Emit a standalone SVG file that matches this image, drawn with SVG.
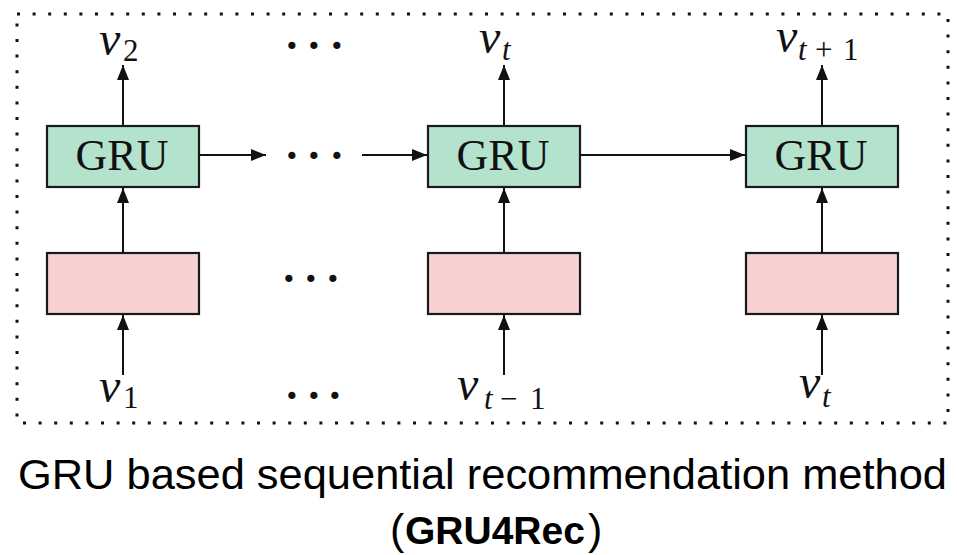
<svg xmlns="http://www.w3.org/2000/svg" width="957" height="555" viewBox="0 0 957 555">
  <style>
    .gru { fill: #b3e2cd; stroke: #1a1a1a; stroke-width: 2.2; }
    .emb { fill: #f7d0d1; stroke: #1a1a1a; stroke-width: 2.2; }
    .lbl { font-family: "Liberation Serif", "Times New Roman", serif; font-size: 44px; fill: #111; }
    .mv { font-family: "Liberation Serif", "Times New Roman", serif; font-style: italic; font-size: 48px; fill: #111; }
    .sub { font-family: "Liberation Serif", "Times New Roman", serif; font-size: 31px; fill: #111; }
    .it { font-style: italic; }
    .dots { font-family: "Liberation Serif", "Times New Roman", serif; font-size: 44px; fill: #111; font-weight: bold; }
    .edge { stroke: #111; stroke-width: 2; fill: none; marker-end: url(#arrow); }
    .cap { font-family: "Liberation Sans", Arial, sans-serif; font-size: 43px; fill: #000; }
    .capb { font-family: "Liberation Sans", Arial, sans-serif; font-size: 39px; font-weight: bold; fill: #000; }
  </style>
  <defs>
    <marker id="arrow" markerUnits="userSpaceOnUse" markerWidth="16" markerHeight="12" refX="15" refY="6" orient="auto">
      <path d="M0,0 L15,6 L0,12 Z" fill="#111"/>
    </marker>
  </defs>

  <rect width="957" height="555" fill="#fff"/>

  <!-- dotted frame -->
  <rect x="17" y="14" width="931" height="409" fill="none" stroke="#111" stroke-width="3" stroke-dasharray="3 12.6"/>

  <!-- GRU cells -->
  <g id="gru1"><rect class="gru" x="47" y="126" width="152" height="61"/><text class="lbl" x="122" y="170" text-anchor="middle">GRU</text></g>
  <g id="gru2"><rect class="gru" x="428" y="126" width="152" height="61"/><text class="lbl" x="503" y="170" text-anchor="middle">GRU</text></g>
  <g id="gru3"><rect class="gru" x="746" y="126" width="152" height="61"/><text class="lbl" x="821" y="170" text-anchor="middle">GRU</text></g>

  <!-- embedding cells -->
  <g id="emb1"><rect class="emb" x="47" y="253" width="152" height="61"/></g>
  <g id="emb2"><rect class="emb" x="428" y="253" width="152" height="61"/></g>
  <g id="emb3"><rect class="emb" x="746" y="253" width="152" height="61"/></g>

  <!-- outputs -->
  <g id="out1"><text class="mv" x="99" y="55">v</text><text class="sub" x="123" y="61">2</text></g>
  <g id="out2"><text class="mv" x="479" y="53">v</text><text class="sub it" x="502" y="60">t</text></g>
  <g id="out3"><text class="mv" x="776" y="52">v</text><text class="sub" x="798 815 843" y="60"><tspan class="it">t</tspan>+1</text></g>

  <!-- inputs -->
  <g id="in1"><text class="mv" x="99" y="402">v</text><text class="sub" x="123" y="408">1</text></g>
  <g id="in2"><text class="mv" x="457" y="400">v</text><text class="sub" x="484 500 530" y="409"><tspan class="it">t</tspan>−1</text></g>
  <g id="in3"><text class="mv" x="799" y="398">v</text><text class="sub it" x="822" y="407">t</text></g>

  <!-- ellipses -->
  <g id="ellipses">
    <text class="dots" x="284.5 306.5 329.5" y="60">···</text>
    <text class="dots" x="284.5 306.5 329.5" y="170">···</text>
    <text class="dots" x="281.5 303.5 325.5" y="293">···</text>
    <text class="dots" x="284.5 306.5 327.5" y="410">···</text>
  </g>

  <!-- connectors -->
  <g id="edges">
    <line class="edge" x1="123" y1="126" x2="123" y2="65"/>
    <line class="edge" x1="504" y1="126" x2="504" y2="65"/>
    <line class="edge" x1="822" y1="126" x2="822" y2="65"/>
    <line class="edge" x1="123" y1="253" x2="123" y2="188"/>
    <line class="edge" x1="504" y1="253" x2="504" y2="188"/>
    <line class="edge" x1="822" y1="253" x2="822" y2="188"/>
    <line class="edge" x1="123" y1="375" x2="123" y2="315"/>
    <line class="edge" x1="504" y1="375" x2="504" y2="315"/>
    <line class="edge" x1="822" y1="375" x2="822" y2="315"/>
    <line class="edge" x1="199" y1="155" x2="266" y2="155"/>
    <line class="edge" x1="362" y1="155" x2="427" y2="155"/>
    <line class="edge" x1="580" y1="155" x2="745" y2="155"/>
  </g>

  <!-- caption -->
  <text class="cap" x="18" y="489" textLength="929" lengthAdjust="spacingAndGlyphs">GRU based sequential recommendation method</text>
  <text class="cap" x="390" y="544">(</text>
  <text class="capb" x="405" y="544">GRU4Rec</text>
  <text class="cap" x="588" y="544">)</text>
</svg>
